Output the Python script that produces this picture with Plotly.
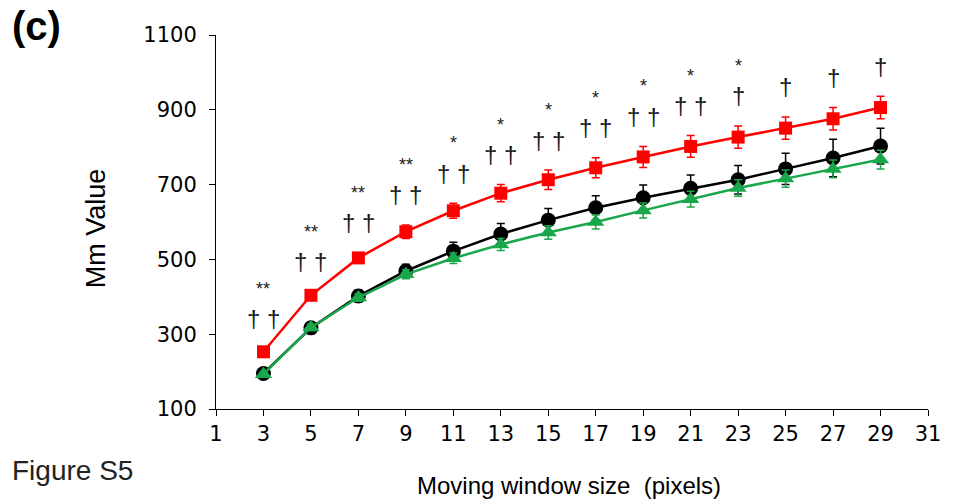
import plotly.graph_objects as go

# Moving window sizes (pixels)
window = [3, 5, 7, 9, 11, 13, 15, 17, 19, 21, 23, 25, 27, 29]

# Mean Mm values and error bars for the three groups
red_vals = [253, 404, 504, 574, 630, 677, 713, 745, 774, 802, 827, 851, 876, 906]
red_err = [8, 10, 14, 18, 20, 23, 26, 27, 28, 29, 30, 30, 30, 30]
black_vals = [195, 317, 402, 469, 522, 568, 605, 638, 665, 690, 713, 742, 771, 803]
black_err = [8, 10, 16, 18, 24, 28, 31, 32, 34, 36, 38, 42, 50, 48]
green_vals = [193, 318, 398, 460, 503, 540, 572, 600, 631, 661, 691, 716, 742, 767]
green_err = [6, 8, 10, 12, 14, 16, 18, 19, 20, 21, 22, 23, 24, 25]

# Significance marks above each window size
dagger_marks = ["† †"] * 10 + ["†"] * 4
star_marks = ["**", "**", "**", "**", "*", "*", "*", "*", "*", "*", "*", "", "", ""]

x_ticks = list(range(1, 32, 2))
y_ticks = list(range(100, 1101, 200))

FONT = "Liberation Sans, Arial, Helvetica, sans-serif"
TICK_FONT = "DejaVu Sans, sans-serif"

fig = go.Figure()

def add_series(vals, err, color, symbol, size):
    fig.add_trace(go.Scatter(
        x=window, y=vals, mode="lines+markers",
        line=dict(color=color, width=2.5),
        marker=dict(color=color, symbol=symbol, size=size, line=dict(width=0)),
        error_y=dict(type="data", array=err, visible=True, color=color,
                     thickness=1.5, width=4),
        showlegend=False, hoverinfo="x+y",
    ))

add_series(black_vals, black_err, "#000000", "circle", 15)
add_series(green_vals, green_err, "#1aa64a", "triangle-up", 15)
add_series(red_vals, red_err, "#ff0000", "square", 13)

annotations = []
for xv, v, e, d, s in zip(window, red_vals, red_err, dagger_marks, star_marks):
    top = v + e
    annotations.append(dict(x=xv, y=top, xref="x", yref="y", text=d,
                            showarrow=False, yshift=30,
                            font=dict(family=FONT, size=24, color="#1a1a1a")))
    if s:
        annotations.append(dict(x=xv, y=top, xref="x", yref="y", text=s,
                                showarrow=False, yshift=60,
                                font=dict(family=FONT, size=18, color="#1a1a1a")))

page_labels = [
    dict(x=8, y=26, xanchor="left", yanchor="middle", text="<b>(c)</b>",
         showarrow=False, font=dict(family=FONT, size=40, color="#000")),
    dict(x=8, y=470, xanchor="left", yanchor="middle", text="Figure S5",
         showarrow=False, font=dict(family=FONT, size=28, color="#222")),
    dict(x=572, y=485, xanchor="center", yanchor="middle",
         text="Moving window size  (pixels)",
         showarrow=False, font=dict(family=FONT, size=24, color="#000")),
    dict(x=95, y=228, xanchor="center", yanchor="middle", text="Mm Value",
         textangle=-90, showarrow=False, font=dict(family=FONT, size=27, color="#000")),
]

# convert pixel-positioned page labels into paper coordinates
W, H = 953, 500
L, R, T, B = 216, 18, 35, 91
pw, ph = W - L - R, H - T - B
for a in page_labels:
    a["xref"] = "paper"
    a["yref"] = "paper"
    a["x"] = (a["x"] - L) / pw
    a["y"] = 1 - (a["y"] - T) / ph
annotations += page_labels

fig.update_layout(
    width=W, height=H,
    margin=dict(l=L, r=R, t=T, b=B),
    paper_bgcolor="white", plot_bgcolor="white",
    font=dict(family=FONT, color="#000"),
    annotations=annotations,
    xaxis=dict(range=[1, 31], tickvals=x_ticks, ticks="outside", ticklen=6,
               tickcolor="#000", showline=True, linecolor="#000", linewidth=1,
               showgrid=False, zeroline=False,
               tickfont=dict(family=TICK_FONT, size=21, color="#000")),
    yaxis=dict(range=[100, 1100], tickvals=y_ticks, ticks="outside", ticklen=6,
               tickcolor="#000", showline=True, linecolor="#000", linewidth=1,
               showgrid=False, zeroline=False, ticklabelstandoff=8,
               tickfont=dict(family=TICK_FONT, size=21, color="#000")),
)

fig.write_html("out.html")
